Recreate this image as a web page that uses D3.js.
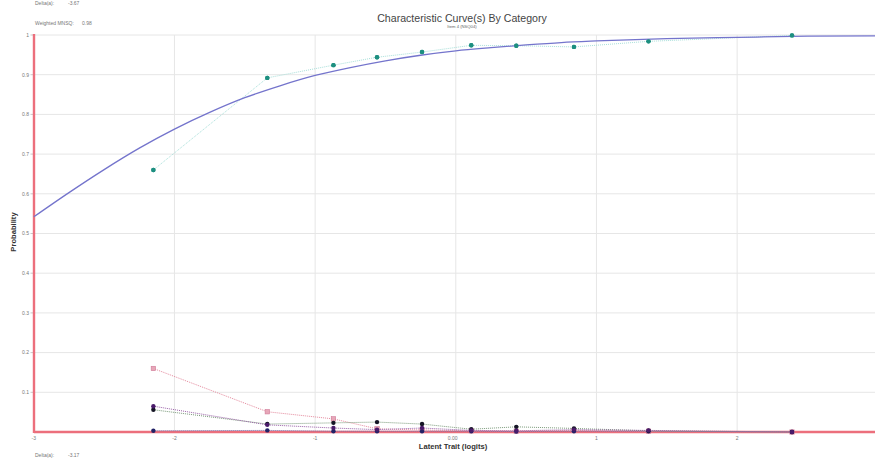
<!DOCTYPE html>
<html><head><meta charset="utf-8">
<script src="https://cdn.jsdelivr.net/npm/d3@7"></script>
<style>
html,body{margin:0;padding:0;background:#fff;}
svg{display:block;font-family:"Liberation Sans",Arial,sans-serif;}
</style></head>
<body><svg id="c" width="875" height="472"></svg>
<script>
// ---- data ----
const obsTheta = [-2.15, -1.34, -0.87, -0.56, -0.24, 0.11, 0.43, 0.84, 1.37, 2.39];
const catTop   = [0.660, 0.892, 0.924, 0.944, 0.957, 0.974, 0.973, 0.970, 0.984, 0.999];
const catPink  = [0.160, 0.051, 0.033, 0.008, 0.005, 0.003, 0.002, 0.004, 0.002, 0.000];
const catPurple= [0.065, 0.018, 0.010, 0.006, 0.010, 0.004, 0.003, 0.006, 0.004, 0.000];
const catBlack = [0.056, 0.020, 0.023, 0.025, 0.020, 0.007, 0.013, 0.009, 0.003, 0.000];
const catNavy  = [0.003, 0.004, 0.002, 0.002, 0.002, 0.002, 0.001, 0.002, 0.002, 0.000];
const modelTheta = [-3, -2.75, -2.5, -2.25, -2, -1.75, -1.5, -1.25, -1, -0.75, -0.5, -0.25, 0, 0.25, 0.5, 0.75, 1, 1.5, 2, 2.5, 3];
const modelP     = [0.542, 0.603, 0.661, 0.715, 0.763, 0.805, 0.842, 0.872, 0.898, 0.918, 0.935, 0.949, 0.960, 0.968, 0.975, 0.981, 0.985, 0.991, 0.994, 0.997, 0.998];
const xTicks = [-3, -2, -1, 0, 1, 2];
const xTickLabels = ["-3", "-2", "-1", "0.00", "1", "2"];
const yTicks = [0, 0.1, 0.2, 0.3, 0.4, 0.5, 0.6, 0.7, 0.8, 0.9, 1];
const yTickLabels = ["0", "0.1", "0.2", "0.3", "0.4", "0.5", "0.6", "0.7", "0.8", "0.9", "1"];
const title = "Characteristic Curve(s) By Category";
const subtitle = "Item 4 (NSQ04)";
const topNote1 = ["Delta(a):", "-3.67"];
const topNote2 = ["Weighted MNSQ:", "0.98"];
const bottomNote = ["Delta(a):", "-3.17"];

// ---- drawing ----
const svg = d3.select("#c");
const x = d3.scaleLinear().domain([-3, 3]).range([33.8, 877.8]);
const y = d3.scaleLinear().domain([0, 1]).range([432, 35]);

// grid
const grid = svg.append("g");
grid.selectAll("line.h").data(yTicks.slice(1)).join("line")
  .attr("x1", 34).attr("x2", 875).attr("y1", d => y(d)).attr("y2", d => y(d))
  .attr("stroke", "#e6e6e6").attr("stroke-width", 1);
grid.selectAll("line.v").data(xTicks.slice(1)).join("line")
  .attr("x1", d => x(d)).attr("x2", d => x(d)).attr("y1", 35).attr("y2", 432)
  .attr("stroke", "#e6e6e6").attr("stroke-width", 1);

// texts
const grey = "#777";
function note(arr, yy, vx) {
  const g = svg.append("g").attr("font-size", 5).attr("fill", grey);
  g.append("text").attr("x", 35).attr("y", yy).text(arr[0]);
  g.append("text").attr("x", vx).attr("y", yy).text(arr[1]);
}
note(topNote1, 5, 68);
note(topNote2, 25, 82);
note(bottomNote, 457, 68);

svg.append("text").attr("x", 462).attr("y", 21.5).attr("text-anchor", "middle")
  .attr("font-size", 10.6).attr("fill", "#444").text(title);
svg.append("text").attr("x", 462).attr("y", 28).attr("text-anchor", "middle")
  .attr("font-size", 4.2).attr("fill", "#666").text(subtitle);

svg.append("text").attr("x", 453).attr("y", 448.5).attr("text-anchor", "middle")
  .attr("font-size", 7.6).attr("font-weight", "bold").attr("fill", "#333").text("Latent Trait (logits)");
svg.append("text").attr("transform", "translate(15.5,232) rotate(-90)").attr("text-anchor", "middle")
  .attr("font-size", 7.6).attr("font-weight", "bold").attr("fill", "#333").text("Probability");

// axes ticks labels
svg.selectAll("text.yl").data(yTicks.slice(1)).join("text")
  .attr("x", 29).attr("y", d => y(d) + 1.8).attr("text-anchor", "end")
  .attr("font-size", 5).attr("fill", grey).text((d, i) => yTickLabels[i + 1]);
svg.selectAll("line.yt").data(yTicks.slice(1)).join("line")
  .attr("x1", 30.5).attr("x2", 34).attr("y1", d => y(d)).attr("y2", d => y(d))
  .attr("stroke", "#bbb").attr("stroke-width", 0.8);
svg.selectAll("text.xl").data(xTicks).join("text")
  .attr("x", (d, i) => i === 3 ? x(d) - 8 : x(d)).attr("y", 440).attr("text-anchor", (d, i) => i === 3 ? "start" : "middle")
  .attr("font-size", 5).attr("fill", grey).text((d, i) => xTickLabels[i]);

// series
const line = d3.line().x(d => x(d[0])).y(d => y(d[1]));
function series(vals, lineColor, ptColor, shape) {
  const pts = obsTheta.map((t, i) => [t, vals[i]]);
  svg.append("path").datum(pts).attr("d", line).attr("fill", "none")
    .attr("stroke", lineColor).attr("stroke-width", 1).attr("stroke-dasharray", "1,1");
  if (shape === "sq") {
    svg.selectAll(null).data(pts).join("rect")
      .attr("x", d => x(d[0]) - 2.2).attr("y", d => y(d[1]) - 2.2).attr("width", 4.4).attr("height", 4.4)
      .attr("fill", "#e7a7b8").attr("stroke", ptColor).attr("stroke-width", 0.6);
  } else {
    svg.selectAll(null).data(pts).join("circle")
      .attr("cx", d => x(d[0])).attr("cy", d => y(d[1])).attr("r", 2.2).attr("fill", ptColor);
  }
}
// axis lines (red)
svg.append("line").attr("x1", 34).attr("x2", 875).attr("y1", 432).attr("y2", 432)
  .attr("stroke", "#ec6f7c").attr("stroke-width", 2.4);
svg.append("line").attr("x1", 34).attr("x2", 34).attr("y1", 34).attr("y2", 433)
  .attr("stroke", "#ec6f7c").attr("stroke-width", 2.4);

series(catPink, "#e58a9e", "#d07a98", "sq");
series(catNavy, "#6a6aa8", "#222266", "c");
series(catBlack, "#7a9a7a", "#151525", "c");
series(catPurple, "#9a60a8", "#4a1a6a", "c");
series(catTop, "#a8e0da", "#1d8f80", "c");

// model curve
svg.append("path").datum(modelTheta.map((t, i) => [t, modelP[i]]))
  .attr("d", d3.line().x(d => x(d[0])).y(d => y(d[1])).curve(d3.curveMonotoneX))
  .attr("fill", "none").attr("stroke", "#7474cc").attr("stroke-width", 1.3);
// top points over model curve
svg.selectAll(null).data(obsTheta.map((t, i) => [t, catTop[i]])).join("circle")
  .attr("cx", d => x(d[0])).attr("cy", d => y(d[1])).attr("r", 2.2).attr("fill", "#1d8f80");
</script></body></html>
